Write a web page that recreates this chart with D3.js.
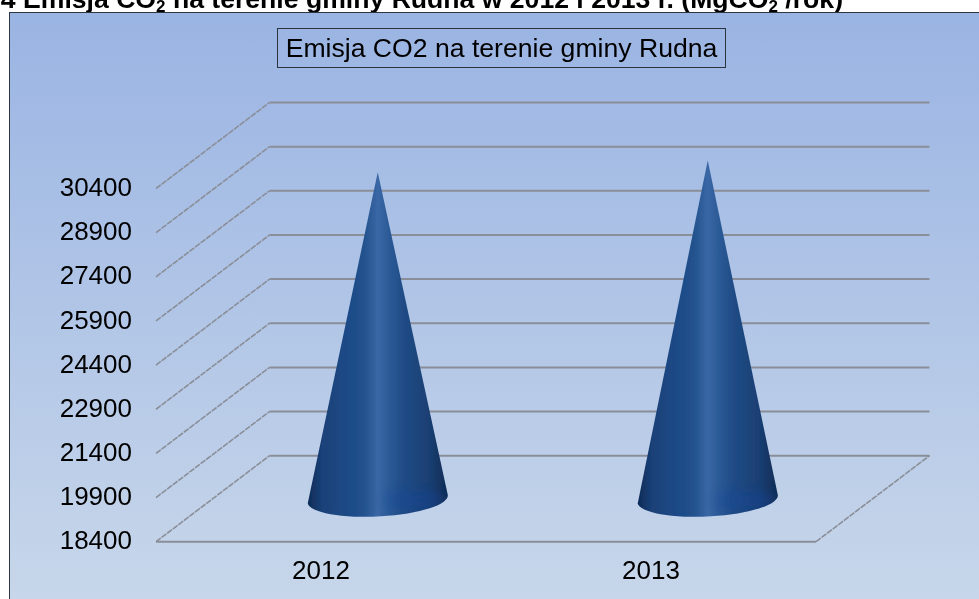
<!DOCTYPE html>
<html>
<head>
<meta charset="utf-8">
<script src="https://cdn.jsdelivr.net/npm/d3@7"></script>
<style>
  html, body { margin: 0; padding: 0; background: #fff; overflow: hidden; }
  svg { display: block; }
  text { font-family: "Liberation Sans", Arial, sans-serif; fill: #000; }
</style>
</head>
<body>
<svg id="chart" width="979" height="599"></svg>
<script>
const years = ["2012", "2013"];
const emissions = [29490, 29890];
const tickValues = [18400, 19900, 21400, 22900, 24400, 25900, 27400, 28900, 30400];
const chartTitle = "Emisja CO2 na terenie gminy Rudna";

const width = 979;
const height = 599;

// front edge of the floor and how far the back wall is shifted from it
const depthX = 113.5;
const depthY = 86;
const frontLeft = 156;
const frontRight = 816;
const gridColor = "#8a8e98";

const svg = d3.select("#chart");
const defs = svg.append("defs");

const y = d3.scaleLinear().domain([18400, 30400]).range([541.7, 188.5]);
const x = d3.scaleBand().domain(years).range([frontLeft, frontRight]);

const bgGradient = defs.append("linearGradient")
  .attr("id", "panelBg")
  .attr("x1", 0).attr("y1", 0).attr("x2", 0).attr("y2", 1);
bgGradient.append("stop").attr("offset", 0).attr("stop-color", "#9ab4e3");
bgGradient.append("stop").attr("offset", 1).attr("stop-color", "#c8d7ea");

const coneGradient = defs.append("linearGradient")
  .attr("id", "coneFill")
  .attr("x1", 0).attr("y1", 0).attr("x2", 1).attr("y2", 0);
[
  [0, "#0e2b57"], [0.1, "#1a4178"], [0.28, "#1c4a87"], [0.4, "#22528d"],
  [0.5, "#3a67a5"], [0.58, "#2b5a97"], [0.68, "#204c86"], [0.86, "#1a4074"], [1, "#0f2c55"]
].forEach(s => coneGradient.append("stop").attr("offset", s[0]).attr("stop-color", s[1]));

defs.append("filter").attr("id", "soft")
  .append("feGaussianBlur").attr("stdDeviation", 0.55);
defs.append("filter").attr("id", "softText")
  .append("feGaussianBlur").attr("stdDeviation", 0.3);
defs.append("filter").attr("id", "glow")
  .attr("x", "-50%").attr("y", "-50%").attr("width", "200%").attr("height", "200%")
  .append("feGaussianBlur").attr("stdDeviation", 6);

// heading of the page the chart was cut from, clipped by the window top
const heading = svg.append("text")
  .attr("x", 843).attr("y", 8)
  .attr("text-anchor", "end")
  .attr("font-size", 26.6)
  .attr("font-weight", "bold")
  .attr("filter", "url(#softText)");
heading.append("tspan").text("4 Emisja CO");
heading.append("tspan").attr("font-size", 17).attr("dy", 4).text("2");
heading.append("tspan").attr("dy", -4).text(" na terenie gminy Rudna w 2012 i 2013 r. (MgCO");
heading.append("tspan").attr("font-size", 17).attr("dy", 4).text("2");
heading.append("tspan").attr("dy", -4).text(" /rok)");

svg.append("rect")
  .attr("x", 9.5).attr("y", 12.5)
  .attr("width", width).attr("height", height)
  .attr("fill", "url(#panelBg)")
  .attr("stroke", "#2f3640");

const plot = svg.append("g").attr("filter", "url(#soft)");

// back wall lines and the diagonals coming forward from them
plot.append("g").selectAll("line")
  .data(tickValues)
  .join("line")
  .attr("x1", frontLeft + depthX)
  .attr("x2", frontRight + depthX)
  .attr("y1", d => y(d) - depthY)
  .attr("y2", d => y(d) - depthY)
  .attr("stroke", gridColor)
  .attr("stroke-width", 2);

plot.append("g").selectAll("line")
  .data(tickValues)
  .join("line")
  .attr("x1", frontLeft)
  .attr("x2", frontLeft + depthX)
  .attr("y1", d => y(d))
  .attr("y2", d => y(d) - depthY)
  .attr("stroke", gridColor)
  .attr("stroke-width", 1.6)
  .attr("stroke-dasharray", "6 1");

// floor
plot.append("line")
  .attr("x1", frontLeft).attr("x2", frontRight)
  .attr("y1", y(18400)).attr("y2", y(18400))
  .attr("stroke", gridColor).attr("stroke-width", 2);
plot.append("line")
  .attr("x1", frontRight).attr("x2", frontRight + depthX)
  .attr("y1", y(18400)).attr("y2", y(18400) - depthY)
  .attr("stroke", gridColor).attr("stroke-width", 1.6)
  .attr("stroke-dasharray", "6 1");

function conePath(year, value) {
  const cx = x(year) + x.bandwidth() / 2 + depthX / 2;
  const baseY = y(18400) - depthY / 2;
  const tipY = y(value) - depthY / 2;
  const path = d3.path();
  path.moveTo(cx, tipY);
  path.lineTo(cx - 70, baseY + 4.5);
  return path.toString() + `A70 17.5 -3 0 0 ${cx + 70} ${baseY - 4}Z`;
}

const cones = plot.append("g").selectAll("g")
  .data(years.map((year, i) => ({ year, value: emissions[i] })))
  .join("g");

cones.append("clipPath")
  .attr("id", (d, i) => "coneClip" + i)
  .append("path")
  .attr("d", d => conePath(d.year, d.value));

cones.append("path")
  .attr("d", d => conePath(d.year, d.value))
  .attr("fill", "url(#coneFill)");

// bluish reflection low on the right of each cone
cones.append("g")
  .attr("clip-path", (d, i) => `url(#coneClip${i})`)
  .append("ellipse")
  .attr("cx", d => x(d.year) + x.bandwidth() / 2 + depthX / 2 + 38)
  .attr("cy", y(18400) - depthY / 2 + 2)
  .attr("rx", 30)
  .attr("ry", 9)
  .attr("fill", "#16459a")
  .attr("opacity", 0.45)
  .attr("filter", "url(#glow)");

const yAxis = d3.axisLeft(y).tickValues(tickValues).tickFormat(d3.format("d")).tickSize(0).tickPadding(0);
svg.append("g")
  .attr("transform", "translate(132,-1.5)")
  .call(yAxis)
  .call(g => g.select(".domain").remove())
  .call(g => g.selectAll("text")
    .attr("font-size", 26)
    .attr("dy", "0.33em")
    .attr("fill", "#000")
    .attr("filter", "url(#softText)")
    .style("font-family", '"Liberation Sans", Arial, sans-serif'));

const xAxis = d3.axisBottom(x).tickSize(0).tickPadding(0);
svg.append("g")
  .attr("transform", "translate(0,561)")
  .call(xAxis)
  .call(g => g.select(".domain").remove())
  .call(g => g.selectAll("text")
    .attr("font-size", 26)
    .attr("dy", "0.71em")
    .attr("fill", "#000")
    .attr("filter", "url(#softText)")
    .style("font-family", '"Liberation Sans", Arial, sans-serif'));

// title box
svg.append("rect")
  .attr("x", 277.5).attr("y", 28.5)
  .attr("width", 448).attr("height", 39)
  .attr("fill", "none")
  .attr("stroke", "#2b3340");
svg.append("text")
  .attr("x", 501.5).attr("y", 57)
  .attr("text-anchor", "middle")
  .attr("font-size", 26.6)
  .attr("filter", "url(#softText)")
  .text(chartTitle);
</script>
</body>
</html>
